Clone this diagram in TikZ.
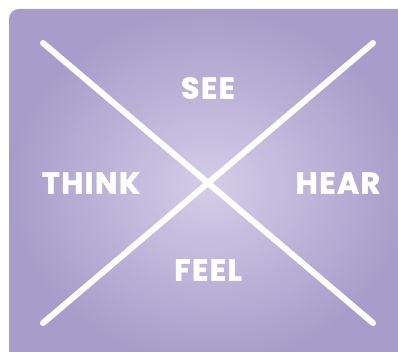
\documentclass[tikz,border=0pt]{standalone}
\usepackage{fontspec}
\setmainfont{Poppins}[LetterSpace=5, BoldFeatures={FakeBold=1.6}]
\definecolor{edgepurple}{RGB}{168,156,202}
\definecolor{midpurple}{RGB}{212,205,232}
\tikzset{
  lbl/.style={text=white, font=\fontsize{30}{32}\selectfont\bfseries, inner sep=0pt, anchor=center},
  xline/.style={draw=white, line width=6pt, line cap=round}
}
\begin{document}
\begin{tikzpicture}[x=1pt,y=-1pt]
\useasboundingbox (0,0) rectangle (398,352);
\begin{scope}
\clip (0,0) rectangle (398,352);
\shade[inner color=midpurple, outer color=edgepurple, rounded corners=10pt] (9,9) rectangle (410,364);
\end{scope}
\coordinate (tl) at (43,43);
\coordinate (br) at (373,323);
\coordinate (tr) at (373,43);
\coordinate (bl) at (43,323);
\draw[xline] (tl) -- (br);
\draw[xline] (tr) -- (bl);
\node[lbl] (see) at (208,88) {SEE};
\node[lbl] (think) at (91,183) {THINK};
\node[lbl] (hear) at (338,183) {HEAR};
\node[lbl] (feel) at (208,270) {FEEL};
\end{tikzpicture}
\end{document}
